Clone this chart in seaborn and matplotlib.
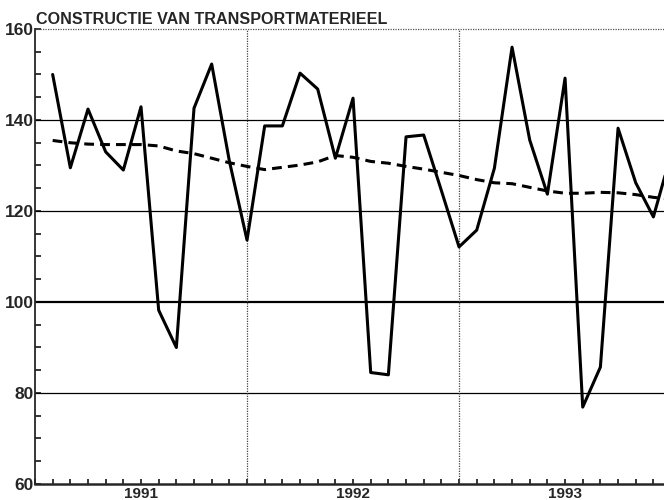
import matplotlib
matplotlib.use("Agg")
import matplotlib.pyplot as plt
import numpy as np
import seaborn as sns

# maandcijfers jan 1991 - dec 1993 (index), laatste punt valt net buiten beeld
maand = np.arange(36)
productie = [150.0, 129.5, 142.4, 133.0, 129.0, 142.9, 98.2, 90.0, 142.6, 152.3, 131.0, 113.6,
             138.7, 138.7, 150.3, 146.8, 131.6, 144.8, 84.5, 84.0, 136.3, 136.7, 124.5, 112.1,
             115.8, 129.4, 156.0, 135.6, 123.7, 149.2, 76.9, 85.7, 138.2, 126.2, 118.7, 132.5]
trend = [135.5, 135.0, 134.7, 134.6, 134.6, 134.6, 134.3, 133.2, 132.6, 131.6, 130.6, 129.8,
         129.1, 129.6, 130.1, 130.8, 132.2, 131.8, 130.9, 130.5, 129.8, 129.2, 128.5, 127.8,
         126.9, 126.2, 126.0, 125.2, 124.4, 123.9, 123.9, 124.1, 124.0, 123.6, 123.0, 122.6]
jaren = ["1991", "1992", "1993"]
titel = "CONSTRUCTIE VAN TRANSPORTMATERIEEL"

sns.set_style("ticks")
plt.rcParams['font.family'] = ['Liberation Sans', 'DejaVu Sans']

fig = plt.figure(figsize=(6.64, 5.0), dpi=100)
ax = fig.add_axes([35/664, 16/500, 629/664, 455/500])

x = maand + 1  # waarde op het einde van de maand
sns.lineplot(x=x, y=productie, ax=ax, color='black', lw=2.2, zorder=5)
sns.lineplot(x=x, y=trend, ax=ax, color='black', lw=2.2, dashes=False, zorder=5)
ax.lines[-1].set_dashes((3.2, 2.0))

ax.set_xlim(0, 35.6)
ax.set_ylim(60, 160)

# rasterlijnen
for v in [80, 120, 140]:
    ax.axhline(v, color='black', lw=0.9, zorder=1)
ax.axhline(100, color='black', lw=1.6, zorder=1)
ax.axhline(160, color='#555555', lw=0.9, ls=(0, (1, 1)), zorder=1, clip_on=False)
for v in [12, 24]:
    ax.axvline(v, color='#444444', lw=0.9, ls=(0, (1, 1)), zorder=1)

ax.set_yticks(np.arange(60, 161, 20))
ax.set_yticks(np.arange(60, 161, 5), minor=True)
ax.set_xticks([6, 18, 30])
ax.set_xticklabels(jaren)
ax.set_xticks(np.arange(0, 36), minor=True)

ax.tick_params(axis='both', which='both', direction='in', color='black', width=1.1,
               bottom=True, left=True, top=False, right=False)
ax.tick_params(axis='y', which='both', length=4, pad=1, labelsize=12.5)
ax.tick_params(axis='x', which='both', length=3.5, pad=2, labelsize=11)
for lab in ax.get_xticklabels() + ax.get_yticklabels():
    lab.set_fontweight('bold')

for s in ['top', 'right']:
    ax.spines[s].set_visible(False)
ax.spines['left'].set_linewidth(1.3)
ax.spines['bottom'].set_linewidth(1.8)

ax.set_xlabel('')
ax.set_ylabel('')
ax.text(0.002, 1.004, titel, transform=ax.transAxes, ha='left', va='bottom',
        fontsize=11.6, fontweight='bold')

fig.savefig('out.png', dpi=100)
